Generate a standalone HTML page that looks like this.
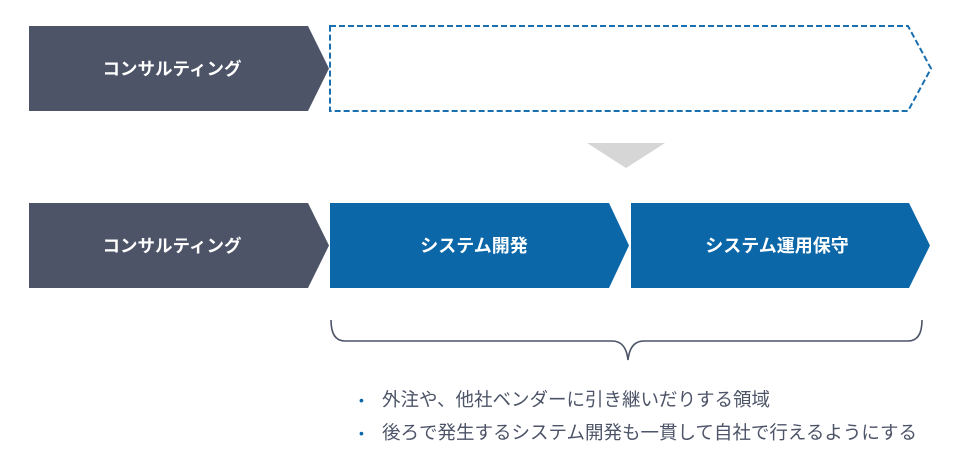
<!DOCTYPE html>
<html><head><meta charset="utf-8"><style>
html,body{margin:0;padding:0;background:#fff;width:970px;height:465px;overflow:hidden}
svg text{font-family:"Liberation Sans","Noto Sans CJK JP",sans-serif}
</style></head><body>
<svg width="970" height="465" viewBox="0 0 970 465" xmlns="http://www.w3.org/2000/svg">
<polygon points="29,26 308,26 329,68.5 308,111 29,111" fill="#4d5468"/>
<text x="172" y="75" fill="#fff" font-size="17.5" font-weight="bold" text-anchor="middle">コンサルティング</text>
<polygon points="330,26 908,26 931,68.5 908,111 330,111" fill="none" stroke="#1a6fb0" stroke-width="2" stroke-dasharray="6,3"/>
<polygon points="587,143 665,143 626,168" fill="#d6d6d6"/>
<polygon points="29,203 308,203 329,245.5 308,288 29,288" fill="#4d5468"/>
<text x="172" y="252" fill="#fff" font-size="17.5" font-weight="bold" text-anchor="middle">コンサルティング</text>
<polygon points="330,203 609,203 629,245.5 609,288 330,288" fill="#0b67a8"/>
<text x="474" y="252" fill="#fff" font-size="18" font-weight="bold" text-anchor="middle">システム開発</text>
<polygon points="631,203 909,203 930,245.5 909,288 631,288" fill="#0b67a8"/>
<text x="777" y="252" fill="#fff" font-size="18" font-weight="bold" text-anchor="middle">システム運用保守</text>
<path d="M331,320 Q331,341 345,341 L612,341 Q626,341 628,360 Q630,341 644,341 L908,341 Q922,341 922,320" fill="none" stroke="#4d5468" stroke-width="1.6"/>
<text x="359" y="405" fill="#0b67a8" font-size="14">•</text>
<text x="382" y="406" fill="#4d5468" font-size="18.5">外注や、他社ベンダーに引き継いだりする領域</text>
<text x="359" y="438" fill="#0b67a8" font-size="14">•</text>
<text x="382" y="439" fill="#4d5468" font-size="18.5">後ろで発生するシステム開発も一貫して自社で行えるようにする</text>
</svg>
</body></html>
